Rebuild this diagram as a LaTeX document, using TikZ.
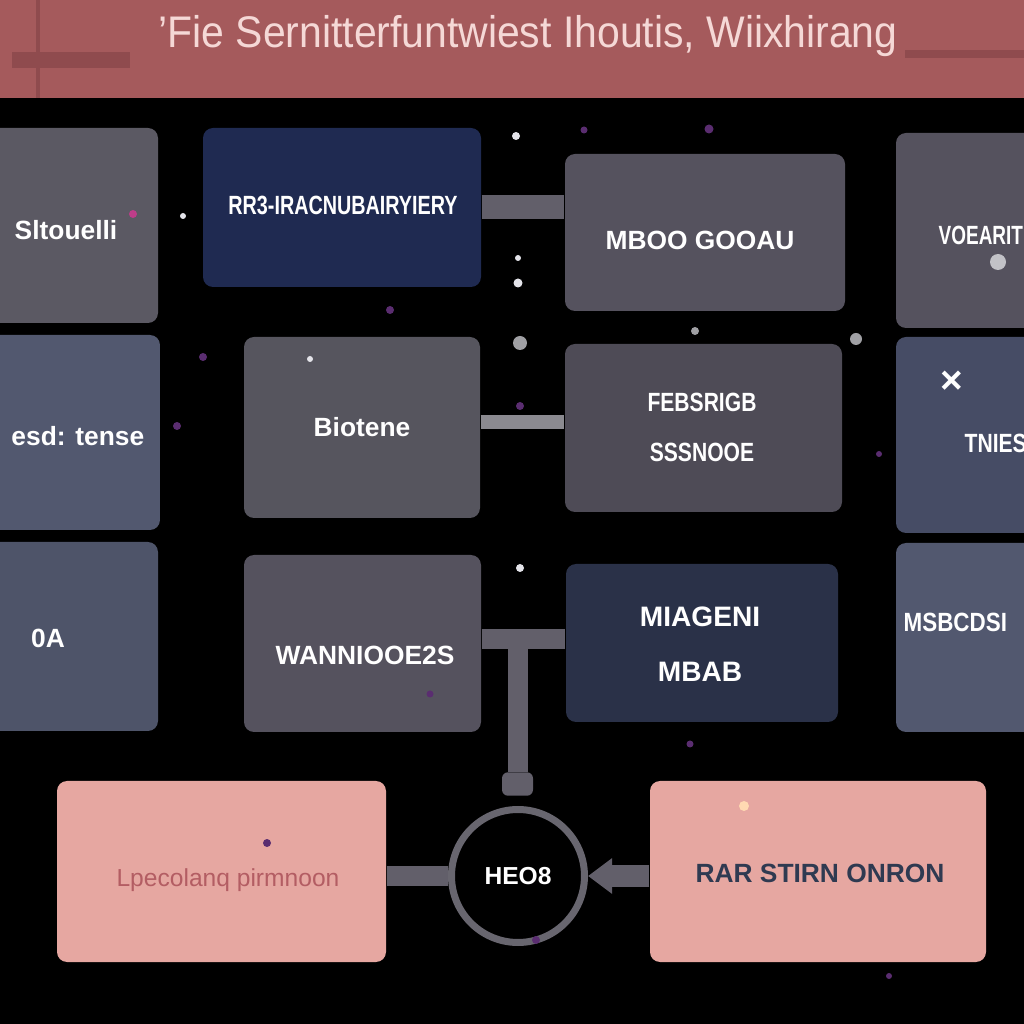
\documentclass[tikz,border=0pt]{standalone}
\usepackage{fontspec}
\setmainfont{Liberation Sans}
\usetikzlibrary{arrows.meta}

\definecolor{titlebar}{HTML}{A55A5C}
\definecolor{titledark}{HTML}{8F4B4E}
\definecolor{titletext}{HTML}{F5D8D6}
\definecolor{cardgrey}{HTML}{5B5963}
\definecolor{cardmauve}{HTML}{55525E}
\definecolor{cardslate}{HTML}{52586F}
\definecolor{cardblue}{HTML}{464C65}
\definecolor{cardnavy}{HTML}{1F2A51}
\definecolor{carddeep}{HTML}{2A3148}
\definecolor{cardpink}{HTML}{E6A7A1}
\definecolor{pinktext}{HTML}{B35D63}
\definecolor{navytext}{HTML}{2F3A51}
\definecolor{barcol}{HTML}{625F6A}
\definecolor{barlight}{HTML}{8B8A90}
\definecolor{hubcol}{HTML}{68666F}
\definecolor{dotpurple}{HTML}{5A2D70}
\definecolor{dotwhite}{HTML}{E4E4EA}

\tikzstyle{card} = [rectangle, rounded corners=0.1cm, inner sep=0pt]
\tikzstyle{cardtext} = [text=white, font=\bfseries\fontsize{7.5}{9}\selectfont, align=center, inner sep=0pt]
\tikzstyle{bar} = [draw=barcol, line width=0.2cm]

\begin{document}
\begin{tikzpicture}[]
		\useasboundingbox (0,0) rectangle (10.24,10.24);
		\clip (0,0) rectangle (10.24,10.24);
		
		%background
		\fill[black] (0,0) rectangle (10.24,10.24);
		\fill[titlebar] (0,9.26) rectangle (10.24,10.24);
		\fill[titledark] (0.36,9.26) rectangle (0.40,10.24);
		\fill[titledark] (0.12,9.56) rectangle (1.30,9.72);
		\fill[titledark] (9.05,9.66) rectangle (10.24,9.74);
		\node[text=titletext, font=\fontsize{12}{14}\selectfont](title) at (5.28,9.88) {\scalebox{0.97}[1.05]{'Fie Sernitterfuntwiest Ihoutis, Wiixhirang}};
		
		%cards
		\node[card, fill=cardgrey, minimum width=1.88cm, minimum height=1.95cm](boxA) at (0.64,7.985) {};
		\node[card, fill=cardnavy, minimum width=2.78cm, minimum height=1.59cm](boxB) at (3.42,8.165) {};
		\node[card, fill=cardmauve, minimum width=2.80cm, minimum height=1.57cm](boxC) at (7.05,7.915) {};
		\node[card, fill=cardmauve, minimum width=1.64cm, minimum height=1.95cm](boxD) at (9.78,7.935) {};
		\node[card, fill=cardslate, minimum width=1.90cm, minimum height=1.95cm](boxE) at (0.65,5.915) {};
		\node[card, fill=cardgrey!95!black, minimum width=2.36cm, minimum height=1.81cm](boxF) at (3.62,5.965) {};
		\node[card, fill=cardmauve!92!black, minimum width=2.77cm, minimum height=1.68cm](boxG) at (7.035,5.96) {};
		\node[card, fill=cardblue, minimum width=1.64cm, minimum height=1.96cm](boxH) at (9.78,5.89) {};
		\node[card, fill=cardslate!95!black, minimum width=1.88cm, minimum height=1.89cm](boxI) at (0.64,3.875) {};
		\node[card, fill=cardmauve, minimum width=2.37cm, minimum height=1.77cm](boxJ) at (3.625,3.805) {};
		\node[card, fill=carddeep, minimum width=2.72cm, minimum height=1.58cm](boxK) at (7.02,3.81) {};
		\node[card, fill=cardslate, minimum width=1.64cm, minimum height=1.89cm](boxL) at (9.78,3.865) {};
		\node[card, fill=cardpink, minimum width=3.29cm, minimum height=1.81cm](boxM) at (2.215,1.525) {};
		\node[card, fill=cardpink, minimum width=3.36cm, minimum height=1.81cm](boxN) at (8.18,1.525) {};
		
		%labels
		\node[cardtext](textA) at (0.66,7.94) {Sltouelli};
		\node[cardtext](textB) at (3.43,8.19) {\scalebox{0.75}[1]{RR3-IRACNUBAIRYIERY}};
		\node[cardtext](textC) at (7.00,7.84) {MBOO GOOAU};
		\node[cardtext, anchor=west](textD) at (9.38,7.89) {\scalebox{0.72}[1]{VOEARIT}};
		\node[cardtext, anchor=east](textE) at (1.45,5.88) {esd: tense};
		\node[cardtext](textF) at (3.62,5.97) {Biotene};
		\node[cardtext](textG) at (7.02,5.965) {\scalebox{0.8}[1]{FEBSRIGB}\\[0.18cm]\scalebox{0.8}[1]{SSSNOOE}};
		\node[cardtext, font=\bfseries\fontsize{11}{13}\selectfont](crossH) at (9.52,6.42) {×};
		\node[cardtext, anchor=west](textH) at (9.64,5.81) {\scalebox{0.8}[1]{TNIES}};
		\node[cardtext](textI) at (0.48,3.86) {0A};
		\node[cardtext](textJ) at (3.65,3.69) {WANNIOOE2S};
		\node[cardtext, font=\bfseries\fontsize{8}{10}\selectfont](textK) at (7.00,3.80) {MIAGENI\\[0.2cm]MBAB};
		\node[cardtext, anchor=west](textL) at (9.03,4.02) {\scalebox{0.85}[1]{MSBCDSI}};
		\node[cardtext, text=pinktext, font=\fontsize{7}{9}\selectfont](textM) at (2.28,1.44) {Lpecolanq pirmnoon};
		\node[cardtext, text=navytext](textN) at (8.20,1.51) {RAR STIRN ONRON};
		
		%hub
		\node[circle, draw=hubcol, line width=0.07cm, fill=black, minimum size=1.33cm, cardtext, font=\bfseries\fontsize{7}{9}\selectfont](hub) at (5.18,1.48) {HEO8};
		\node[rectangle, fill=barcol, rounded corners=0.06cm, minimum width=0.31cm, minimum height=0.22cm](knob) at (5.175,2.40) {};
		
		%connectors
		\draw[bar, line width=0.24cm] (boxB.east) -- (boxB.east -| boxC.west);
		\draw[bar, draw=barlight, line width=0.14cm] ([yshift=0.05cm]boxF.east) -- ([yshift=0.05cm]boxF.east -| boxG.west);
		\draw[bar] ([yshift=0.04cm]boxJ.east) -- ([yshift=0.04cm]boxJ.east -| boxK.west);
		\draw[bar] (knob.north) -- (knob.north |- boxJ.east);
		\draw[bar] (hub.west -| boxM.east) -- (hub.west);
		\draw[bar, line width=0.22cm, -{Triangle[length=0.24cm, width=0.34cm]}] (hub.east -| boxN.west) -- (hub.east);
		
		%dots
		\fill[dotwhite] (5.16,8.88) circle (0.04);
		\fill[dotwhite] (5.18,7.66) circle (0.03);
		\fill[dotwhite] (5.18,7.41) circle (0.045);
		\fill[dotwhite!70!black] (5.20,6.81) circle (0.07);
		\fill[dotwhite] (5.20,4.56) circle (0.04);
		\fill[dotwhite!85!black] (9.98,7.62) circle (0.08);
		\fill[dotwhite] (1.83,8.08) circle (0.03);
		\fill[dotwhite] (3.10,6.65) circle (0.03);
		\fill[dotwhite!70!black] (8.56,6.85) circle (0.06);
		\fill[dotwhite!70!black] (6.95,6.93) circle (0.04);
		\fill[orange!30!white] (7.44,2.18) circle (0.05);
		\fill[dotpurple] (7.09,8.95) circle (0.045);
		\fill[dotpurple] (5.84,8.94) circle (0.035);
		\fill[dotpurple] (3.90,7.14) circle (0.04);
		\fill[dotpurple] (2.03,6.67) circle (0.04);
		\fill[dotpurple] (1.77,5.98) circle (0.04);
		\fill[dotpurple] (5.20,6.18) circle (0.04);
		\fill[dotpurple] (8.79,5.70) circle (0.03);
		\fill[magenta!60!dotpurple] (1.33,8.10) circle (0.04);
		\fill[dotpurple] (2.67,1.81) circle (0.04);
		\fill[dotpurple] (4.30,3.30) circle (0.035);
		\fill[dotpurple] (5.36,0.84) circle (0.04);
		\fill[dotpurple] (6.90,2.80) circle (0.035);
		\fill[dotpurple] (8.89,0.48) circle (0.03);
		\end{tikzpicture}
\end{document}
